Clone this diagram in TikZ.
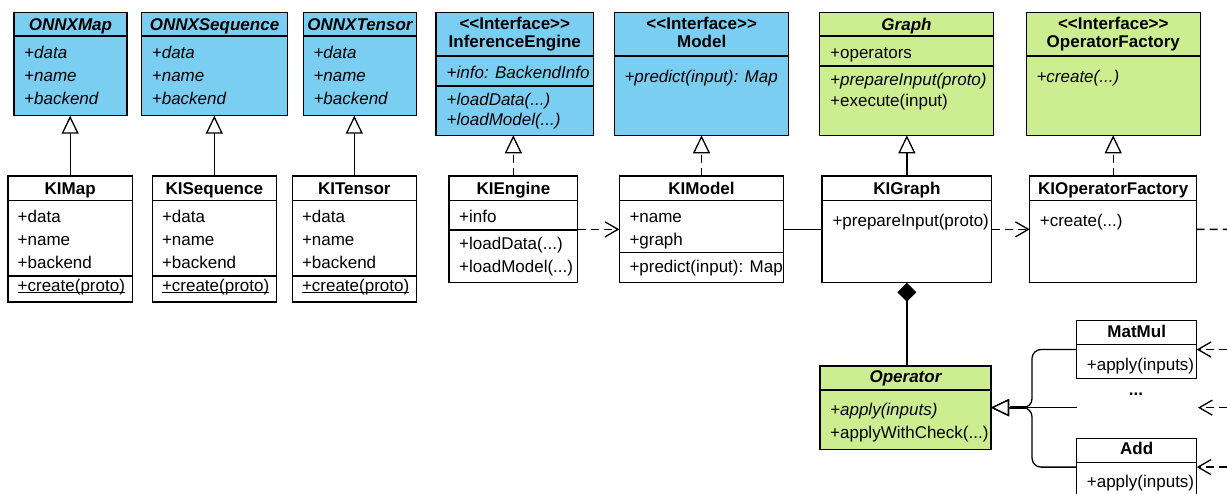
\documentclass[tikz,border=0pt]{standalone}
\usepackage{fontspec}
\setmainfont{Liberation Sans}
\usetikzlibrary{arrows.meta,calc}

\definecolor{ifaceblue}{RGB}{122,206,242}
\definecolor{absgreen}{RGB}{204,238,144}

% underline that sits close to the baseline, as UML static members
\newcommand\staticmember[1]{\setbox0\hbox{#1}\rlap{\rule[-2.2pt]{\wd0}{1pt}}\box0}
% stereotype marker, with the angle brackets kept as plain characters
\newcommand\ifacemark{<\kern0pt<Interface>\kern0pt>}

\tikzset{
  uml/.style={draw=black, line width=1.3pt, inner sep=0pt, outer sep=0pt, anchor=north west, rectangle},
  lbl/.style={inner sep=0pt, anchor=base west, font=\fontsize{17}{20}\selectfont},
  ilbl/.style={lbl, font=\fontsize{17}{20}\selectfont\itshape},
  ttl/.style={inner sep=0pt, anchor=base, font=\fontsize{17}{20}\selectfont\bfseries},
  ittl/.style={ttl, font=\fontsize{17}{20}\selectfont\bfseries\itshape},
  sep/.style={line width=1.3pt},
  conn/.style={line width=1.3pt},
  gentip/.style={-{Triangle[length=18pt, width=17pt, fill=white]}},
  generalize/.style={conn, gentip},
  realize/.style={conn, dash pattern=on 8pt off 5pt, gentip},
  depend/.style={conn, dash pattern=on 8pt off 5pt, -{Straight Barb[length=13pt, width=15pt]}},
  compose/.style={conn, {Diamond[length=19pt, width=19pt]}-},
}

\begin{document}
\begin{tikzpicture}[x=1pt, y=-1pt]
\useasboundingbox (0,0) rectangle (1227,493);
\fill[white] (0,0) rectangle (1227,493);
\clip (0,0) rectangle (1227,493);

% ---------- abstract data classes ----------
\node[uml, fill=ifaceblue, minimum width=113pt, minimum height=103pt] (onnxmap) at (14,12.7) {};
\draw[sep] (14,36) -- (127,36);
\node[ittl] (onnxmap-t) at (70.5,30.5) {ONNXMap};
\node[ilbl] (onnxmap-1) at (24,58) {+data};
\node[ilbl] (onnxmap-2) at (24,81) {+name};
\node[ilbl] (onnxmap-3) at (24,104) {+backend};

\node[uml, fill=ifaceblue, minimum width=145.6pt, minimum height=103pt] (onnxseq) at (141.7,12.7) {};
\draw[sep] (141.7,36) -- (287.3,36);
\node[ittl] (onnxseq-t) at (214.5,30.5) {ONNXSequence};
\node[ilbl] (onnxseq-1) at (151.7,58) {+data};
\node[ilbl] (onnxseq-2) at (151.7,81) {+name};
\node[ilbl] (onnxseq-3) at (151.7,104) {+backend};

\node[uml, fill=ifaceblue, minimum width=113.4pt, minimum height=103pt] (onnxten) at (303.3,12.7) {};
\draw[sep] (303.3,36) -- (416.7,36);
\node[ittl] (onnxten-t) at (360,30.5) {ONNXTensor};
\node[ilbl] (onnxten-1) at (313.3,58) {+data};
\node[ilbl] (onnxten-2) at (313.3,81) {+name};
\node[ilbl] (onnxten-3) at (313.3,104) {+backend};

% ---------- concrete data classes ----------
\node[uml, fill=white, minimum width=124.3pt, minimum height=126pt] (kimap) at (8,176) {};
\draw[sep] (8,200.7) -- (132.3,200.7);
\draw[sep] (8,276) -- (132.3,276);
\node[ttl] (kimap-t) at (70.2,194) {KIMap};
\node[lbl] (kimap-1) at (17.5,222.7) {+data};
\node[lbl] (kimap-2) at (17.5,245.3) {+name};
\node[lbl] (kimap-3) at (17.5,268.3) {+backend};
\node[lbl] (kimap-4) at (17.5,291) {\staticmember{+create(proto)}};

\node[uml, fill=white, minimum width=124pt, minimum height=126pt] (kiseq) at (152.3,176) {};
\draw[sep] (152.3,200.7) -- (276.3,200.7);
\draw[sep] (152.3,276) -- (276.3,276);
\node[ttl] (kiseq-t) at (214.3,194) {KISequence};
\node[lbl] (kiseq-1) at (161.8,222.7) {+data};
\node[lbl] (kiseq-2) at (161.8,245.3) {+name};
\node[lbl] (kiseq-3) at (161.8,268.3) {+backend};
\node[lbl] (kiseq-4) at (161.8,291) {\staticmember{+create(proto)}};

\node[uml, fill=white, minimum width=124pt, minimum height=126pt] (kiten) at (292.3,176) {};
\draw[sep] (292.3,200.7) -- (416.3,200.7);
\draw[sep] (292.3,276) -- (416.3,276);
\node[ttl] (kiten-t) at (354.3,194) {KITensor};
\node[lbl] (kiten-1) at (301.8,222.7) {+data};
\node[lbl] (kiten-2) at (301.8,245.3) {+name};
\node[lbl] (kiten-3) at (301.8,268.3) {+backend};
\node[lbl] (kiten-4) at (301.8,291) {\staticmember{+create(proto)}};

% ---------- interfaces ----------
\node[uml, fill=ifaceblue, minimum width=157.7pt, minimum height=122.6pt] (ie) at (436,12.7) {};
\draw[sep] (436,56) -- (593.7,56);
\draw[sep] (436,86) -- (593.7,86);
\node[ttl] (ie-s) at (514.8,29) {\ifacemark};
\node[ttl] (ie-t) at (514.8,47.5) {InferenceEngine};
\node[ilbl] (ie-1) at (446.5,78) {+info: BackendInfo};
\node[ilbl] (ie-2) at (446.5,105) {+loadData(...)};
\node[ilbl] (ie-3) at (446.5,125.5) {+loadModel(...)};

\node[uml, fill=ifaceblue, minimum width=174pt, minimum height=122.6pt] (model) at (614.7,12.7) {};
\draw[sep] (614.7,56) -- (788.7,56);
\node[ttl] (model-s) at (701.7,29) {\ifacemark};
\node[ttl] (model-t) at (701.7,47.5) {Model};
\node[ilbl] (model-1) at (624.3,82) {+predict(input): Map};

\node[uml, fill=absgreen, minimum width=174.4pt, minimum height=122.6pt] (graph) at (819.3,12.7) {};
\draw[sep] (819.3,36) -- (993.7,36);
\draw[sep] (819.3,66) -- (993.7,66);
\node[ittl] (graph-t) at (906.5,30.5) {Graph};
\node[lbl] (graph-1) at (830,58.3) {+operators};
\node[ilbl] (graph-2) at (830,85) {+prepareInput(proto)};
\node[lbl] (graph-3) at (830,106.7) {+execute(input)};

\node[uml, fill=absgreen, minimum width=174pt, minimum height=122.6pt] (opf) at (1026.3,12.7) {};
\draw[sep] (1026.3,56) -- (1200.3,56);
\node[ttl] (opf-s) at (1113.3,29) {\ifacemark};
\node[ttl] (opf-t) at (1113.3,47.5) {OperatorFactory};
\node[ilbl] (opf-1) at (1036.3,82.7) {+create(...)};

% ---------- implementations ----------
\node[uml, fill=white, minimum width=128.7pt, minimum height=106.7pt] (kiengine) at (449,176) {};
\draw[sep] (449,200.7) -- (577.7,200.7);
\draw[sep] (449,230) -- (577.7,230);
\node[ttl] (kiengine-t) at (513.4,194) {KIEngine};
\node[lbl] (kiengine-1) at (459,222.7) {+info};
\node[lbl] (kiengine-2) at (459,249.3) {+loadData(...)};
\node[lbl] (kiengine-3) at (459,272) {+loadModel(...)};

\node[uml, fill=white, minimum width=164.4pt, minimum height=106.7pt] (kimodel) at (619.3,176) {};
\draw[sep] (619.3,200.7) -- (783.7,200.7);
\draw[sep] (619.3,252.7) -- (783.7,252.7);
\node[ttl] (kimodel-t) at (701.5,194) {KIModel};
\node[lbl] (kimodel-1) at (629.3,222.7) {+name};
\node[lbl] (kimodel-2) at (629.3,245) {+graph};
\node[lbl] (kimodel-3) at (629.3,272) {+predict(input): Map};

\node[uml, fill=white, minimum width=169.7pt, minimum height=106.7pt] (kigraph) at (822,176) {};
\draw[sep] (822,200.7) -- (991.7,200.7);
\node[ttl] (kigraph-t) at (906.9,194) {KIGraph};
\node[lbl] (kigraph-1) at (832.3,226) {+prepareInput(proto)};

\node[uml, fill=white, minimum width=167pt, minimum height=106.7pt] (kiopf) at (1029.7,176) {};
\draw[sep] (1029.7,200.7) -- (1196.7,200.7);
\node[ttl] (kiopf-t) at (1113.2,194) {KIOperatorFactory};
\node[lbl] (kiopf-1) at (1039.7,226) {+create(...)};

% ---------- operators ----------
\node[uml, fill=absgreen, minimum width=171pt, minimum height=83.3pt] (operator) at (820,366) {};
\draw[sep] (820,390) -- (991,390);
\node[ittl] (operator-t) at (905.5,382.7) {Operator};
\node[ilbl] (operator-1) at (830,415.3) {+apply(inputs)};
\node[lbl] (operator-2) at (830,438) {+applyWithCheck(...)};

\node[uml, fill=white, minimum width=120pt, minimum height=57.6pt] (matmul) at (1076.7,320.7) {};
\draw[sep] (1076.7,344.3) -- (1196.7,344.3);
\node[ttl] (matmul-t) at (1136.7,337.7) {MatMul};
\node[lbl] (matmul-1) at (1086.7,370.3) {+apply(inputs)};

\node[ttl] (more) at (1136,395) {...};

\node[uml, fill=white, minimum width=120pt, minimum height=57.6pt] (add) at (1076.7,438.3) {};
\draw[sep] (1076.7,462.3) -- (1196.7,462.3);
\node[ttl] (add-t) at (1136.7,454.3) {Add};
\node[lbl] (add-1) at (1086.7,487.7) {+apply(inputs)};

% ---------- relations ----------
\draw[generalize] (kimap.north) -- (kimap.north |- onnxmap.south);
\draw[generalize] (kiseq.north) -- (kiseq.north |- onnxseq.south);
\draw[generalize] (kiten.north) -- (kiten.north |- onnxten.south);
\draw[realize] (kiengine.north) -- (kiengine.north |- ie.south);
\draw[realize] (kimodel.north) -- (kimodel.north |- model.south);
\draw[generalize] (kigraph.north) -- (kigraph.north |- graph.south);
\draw[realize] (kiopf.north) -- (kiopf.north |- opf.south);

\draw[depend] (kiengine.east) -- (kimodel.west);
\draw[conn] (kimodel.east) -- (kigraph.west);
\draw[depend] (kigraph.east) -- (kiopf.west);
\coordinate (opfout) at (1240,229.35);
\draw[conn, dash pattern=on 8pt off 5pt] (kiopf.east) -- (opfout);

\draw[compose] (kigraph.south) -- (kigraph.south |- operator.north);

% operator hierarchy
\coordinate (branch) at (1032,407.65);
\coordinate (trunk) at (1026.5,407.65);
\coordinate (moreL) at (1076.7,407.65);
\coordinate (moreR) at (1198,407.65);
\draw[generalize, rounded corners=9pt] (matmul.west) -| (branch) -- (operator.east);
\draw[generalize] (moreL) -- (operator.east);
\draw[generalize, rounded corners=9pt] (add.west) -| (branch) -- (operator.east);
\draw[line width=2.6pt] (trunk) -- ($(operator.east)+(19,0)$);

% incoming dependencies from the right
\coordinate (in1) at (1240,349.5);
\coordinate (in2) at (1240,407.65);
\coordinate (in3) at (1240,467.1);
\draw[depend] (in1) -- (matmul.east);
\draw[depend] (in2) -- (moreR);
\draw[depend] (in3) -- (add.east);
\end{tikzpicture}
\end{document}
